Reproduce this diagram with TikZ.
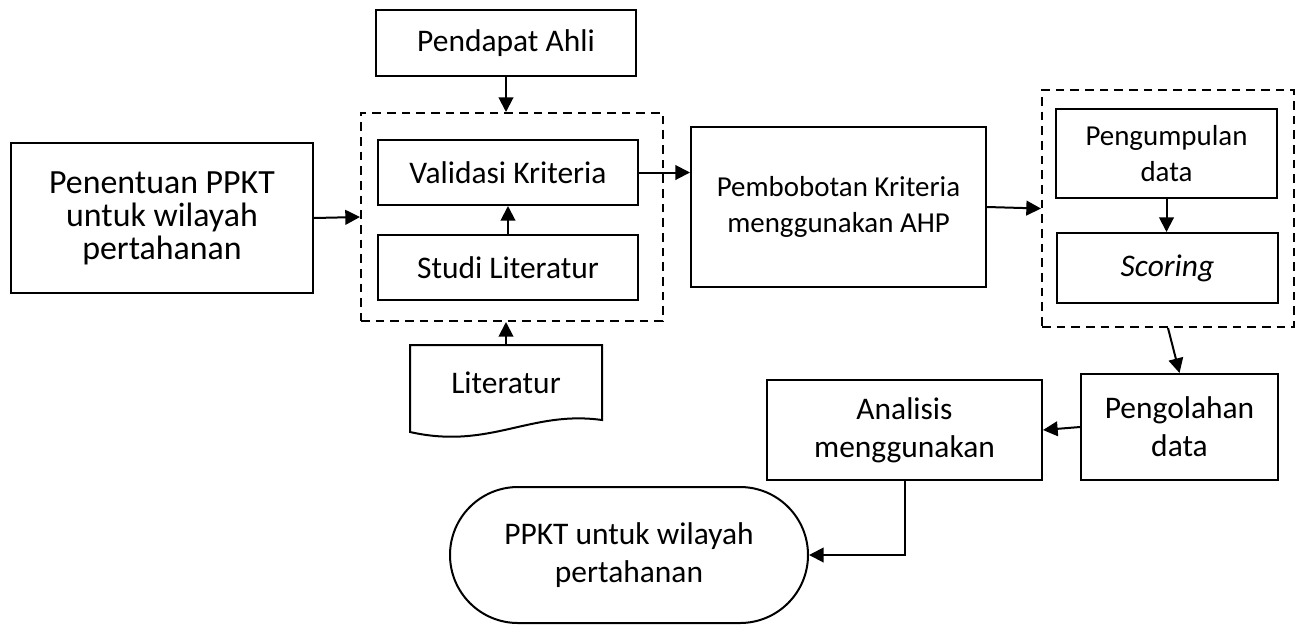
\documentclass[tikz,border=0pt]{standalone}
\usepackage{fontspec}
\setmainfont{Carlito}
\usetikzlibrary{arrows.meta,shapes.misc}
\begin{document}
\begin{tikzpicture}[x=0.75pt,y=-0.75pt,
  every node/.style={font=\fontsize{23.6}{28.5}\selectfont, align=center, inner sep=0pt},
  small/.style={font=\fontsize{21.7}{27.5}\selectfont},
  big/.style={font=\fontsize{25.4}{24.75}\selectfont},
  box/.style 2 args={draw, line width=1.5pt, rectangle, minimum width=#1*0.75pt, minimum height=#2*0.75pt},
  dbox/.style 2 args={draw, line width=1.5pt, dash pattern=on 6.5pt off 4.5pt, rectangle, minimum width=#1*0.75pt, minimum height=#2*0.75pt},
  term/.style 2 args={draw, line width=1.5pt, rounded rectangle, minimum width=#1*0.75pt, minimum height=#2*0.75pt},
  arr/.style={line width=1.5pt, -{Triangle[length=11pt,width=11pt]}}]
\useasboundingbox (0,0) rectangle (1299,626);

\node[box={260}{66}] (pend) at (506,43) {Pendapat Ahli};
\node[dbox={302}{208}] (dash1) at (512,217) {};
\node[box={260}{65}] (val) at (508,172.5) {Validasi Kriteria};
\node[box={260}{65}] (stud) at (508,267.5) {Studi Literatur};

\draw[line width=1.5pt, line join=miter] (410,345) -- (602,345) -- (602,420)
  .. controls (530,410) and (490,450) .. (410,432) -- cycle;
\node (lit) at (506,383) {Literatur};
\coordinate (littop) at (506,345);

\node[box={302}{150}, big] (pen) at (162,218) {Penentuan PPKT\\untuk wilayah\\pertahanan};
\node[box={295}{160}, small] (pem) at (838.5,207) {Pembobotan Kriteria\\menggunakan AHP};
\node[dbox={252}{237}] (dash2) at (1168,208.5) {};
\node[box={221}{89}, small] (pgm) at (1166.5,153.5) {Pengumpulan\\data};
\node[box={221}{70}] (sco) at (1167.5,268) {\itshape Scoring};
\node[box={197}{106}] (pgl) at (1179.5,427) {Pengolahan\\data};
\node[box={275}{100}] (ana) at (904.5,430) {Analisis\\menggunakan};
\node[term={358}{136}] (fin) at (629,555) {PPKT untuk wilayah\\pertahanan};

\draw[arr] (pend.south) -- (pend.south |- dash1.north);
\draw[arr] (stud.north) -- (val.south);
\draw[arr] (littop) -- (littop |- dash1.south);
\draw[arr] (pen.east) -- (dash1.west);
\draw[arr] (val.east) -- (val.east -| pem.west);
\draw[arr] (pem.east) -- (dash2.west);
\draw[arr] (pgm.south) -- (pgm.south |- sco.north);
\draw[arr] (dash2.south) -- (pgl.north);
\draw[arr] (pgl.west) -- (ana.east);
\draw[arr] (ana.south) |- (fin.east);
\end{tikzpicture}
\end{document}
